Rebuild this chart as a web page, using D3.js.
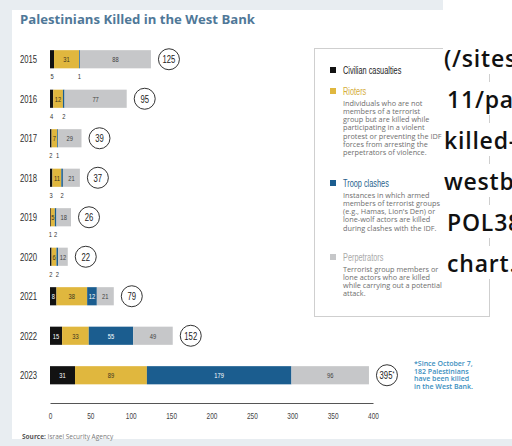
<!DOCTYPE html>
<html>
<head>
<meta charset="utf-8">
<script src="https://cdn.jsdelivr.net/npm/d3@7"></script>
<style>
  html, body { margin: 0; padding: 0; background: #ffffff; }
  svg { display: block; overflow: hidden; }
  .cond { font-family: "Liberation Sans", "DejaVu Sans", sans-serif; }
  .body { font-family: "Open Sans", "Noto Sans", sans-serif; }
</style>
</head>
<body>
<svg id="chart" width="512" height="446"></svg>
<script>
// Palestinians killed in the West Bank, by category and year
const years = ["2015", "2016", "2017", "2018", "2019", "2020", "2021", "2022", "2023"];
const civilian = [5, 4, 2, 3, 1, 2, 8, 15, 31];
const rioters = [31, 12, 7, 11, 5, 6, 38, 33, 89];
const troopClashes = [1, 2, 1, 2, 2, 2, 12, 55, 179];
const perpetrators = [88, 77, 29, 21, 18, 12, 21, 49, 96];
const totals = [125, 95, 39, 37, 26, 22, 79, 152, 395];
const totalMarks = ["", "", "", "", "", "", "", "", "*"];
const xTicks = [0, 50, 100, 150, 200, 250, 300, 350, 400];

const seriesKeys = ["civilian", "rioters", "troop", "perpetrators"];
const seriesNames = ["Civilian casualties", "Rioters", "Troop clashes", "Perpetrators"];
const seriesColors = ["#121212", "#e0b73e", "#1b5d8f", "#c6c7c9"];
const seriesText = ["#ffffff", "#3a3320", "#ffffff", "#3f3f3f"];
const legendLabelColors = ["#222222", "#d4ac3a", "#1f5f8d", "#a9a9a9"];
const legendNotes = [
  [],
  ["Individuals who are not", "members of a terrorist", "group but are killed while",
   "participating in a violent", "protest or preventing the IDF", "forces from arresting the",
   "perpetrators of violence."],
  ["Instances in which armed", "members of terrorist groups", "(e.g., Hamas, Lion's Den) or",
   "lone-wolf actors are killed", "during clashes with the IDF."],
  ["Terrorist group members or", "lone actors who are killed", "while carrying out a potential",
   "attack."]
];
const footnoteLines = ["*Since October 7,", "182 Palestinians", "have been killed", "in the West Bank."];
const pathLines = ["(/sites/default/files/2023-", "11/palestinians-", "killed-in-the-",
  "westbank-", "POL38-", "chart.png)"];

const table = years.map((yr, i) => ({
  year: yr,
  civilian: civilian[i],
  rioters: rioters[i],
  troop: troopClashes[i],
  perpetrators: perpetrators[i],
  total: totals[i],
  mark: totalMarks[i]
}));

// squeeze text horizontally to get a condensed face
function narrow(sel, sx) {
  sel.each(function () {
    const tx = +this.getAttribute("x") || 0;
    const ty = +this.getAttribute("y") || 0;
    this.setAttribute("x", 0);
    this.setAttribute("y", 0);
    this.setAttribute("transform", `translate(${tx},${ty}) scale(${sx},1)`);
  });
}

const svg = d3.select("#chart");
const W = 512, H = 446;

// page frame
svg.append("rect").attr("width", W).attr("height", H).attr("fill", "#ffffff");
svg.append("rect").attr("x", 0).attr("y", 0).attr("width", 12).attr("height", H).attr("fill", "#e8edf1");
svg.append("rect").attr("x", 0).attr("y", 0).attr("width", 443).attr("height", 10).attr("fill", "#e8edf1");
svg.append("rect").attr("x", 0).attr("y", 439).attr("width", W).attr("height", 7).attr("fill", "#e8edf1");

// title
svg.append("text")
  .attr("x", 20).attr("y", 24)
  .attr("class", "body")
  .attr("font-size", 12.5).attr("font-weight", 700)
  .attr("fill", "#4f7898")
  .attr("textLength", 235).attr("lengthAdjust", "spacingAndGlyphs")
  .text("Palestinians Killed in the West Bank");

const x = d3.scaleLinear().domain([0, 400]).range([50, 373]);
const y = d3.scaleBand().domain(years).range([39.5, 395]).paddingInner(0.54).paddingOuter(0.27);
const bw = y.bandwidth();

const stacked = d3.stack().keys(seriesKeys)(table);

// year labels
svg.append("g").selectAll("text").data(years).join("text")
  .attr("class", "cond")
  .attr("x", 20).attr("y", d => y(d) + bw / 2).attr("dy", "0.35em")
  .attr("font-size", 11).attr("fill", "#2e2e2e")
  .text(d => d)
  .call(narrow, 0.7);

// stacked bars
const layers = svg.append("g").selectAll("g").data(stacked).join("g");
layers.each(function (layer, li) {
  const g = d3.select(this);
  g.selectAll("rect").data(layer).join("rect")
    .attr("x", d => x(d[0]))
    .attr("y", d => y(d.data.year))
    .attr("width", d => x(d[1]) - x(d[0]))
    .attr("height", bw)
    .attr("fill", seriesColors[li]);

  g.selectAll("text").data(layer).join("text")
    .attr("class", "cond")
    .attr("font-size", 8)
    .attr("text-anchor", "middle")
    .each(function (d) {
      const v = d[1] - d[0];
      const below = (li === 0 || li === 2) && v < 6;
      d3.select(this)
        .attr("x", (x(d[0]) + x(d[1])) / 2)
        .attr("y", below ? y(d.data.year) + bw + 8 : y(d.data.year) + bw / 2)
        .attr("dy", "0.35em")
        .attr("fill", below ? "#333" : seriesText[li])
        .text(v);
    })
    .call(narrow, 0.72);
});

// totals in circles
const tot = svg.append("g").selectAll("g").data(table).join("g")
  .attr("transform", d => `translate(${x(d.total) + 18},${y(d.year) + bw / 2})`);
tot.append("circle").attr("r", 10.5).attr("fill", "#fff").attr("stroke", "#333").attr("stroke-width", 1);
tot.append("text")
  .attr("class", "cond")
  .attr("text-anchor", "middle").attr("dy", "0.36em")
  .attr("font-size", 11).attr("fill", "#222")
  .each(function (d) {
    const t = d3.select(this);
    t.append("tspan").text(d.total);
    if (d.mark) t.append("tspan").attr("font-size", 7).attr("dy", "-0.4em").text(d.mark);
  })
  .call(narrow, 0.7);

// x axis
const axis = svg.append("g")
  .attr("transform", "translate(0,403)")
  .call(d3.axisBottom(x).tickValues(xTicks).tickSize(0).tickPadding(10));
axis.select(".domain").attr("stroke", "#555").attr("stroke-width", 1);
axis.selectAll(".tick text")
  .attr("font-size", 9).attr("fill", "#444")
  .style("font-family", "'Liberation Sans', 'DejaVu Sans', sans-serif")
  .attr("transform", "scale(0.72,1)");

// source
svg.append("text")
  .attr("class", "body").attr("x", 22).attr("y", 439)
  .attr("font-size", 6.5).attr("fill", "#7a7a7a")
  .call(t => {
    t.append("tspan").attr("font-weight", 700).attr("fill", "#555").text("Source: ");
    t.append("tspan").text("Israel Security Agency");
  });

// footnote beside 2023
svg.append("g").selectAll("text").data(footnoteLines).join("text")
  .attr("class", "body")
  .attr("x", 414).attr("y", (d, i) => 366 + i * 7.6)
  .attr("font-size", 7).attr("font-weight", 600).attr("fill", "#3b8fc0")
  .text(d => d);

// legend box
const lg = svg.append("g");
lg.append("rect").attr("x", 314.5).attr("y", 48.5).attr("width", 175).attr("height", 268)
  .attr("fill", "#fff").attr("stroke", "#cfcfcf").attr("stroke-width", 1);
const legendY = [70, 91, 183, 257];
seriesNames.forEach((name, i) => {
  lg.append("rect").attr("x", 330).attr("y", legendY[i] - 3).attr("width", 6).attr("height", 6)
    .attr("fill", seriesColors[i]);
  lg.append("text").attr("class", "cond")
    .attr("x", 343).attr("y", legendY[i]).attr("dy", "0.35em")
    .attr("font-size", 10.5).attr("fill", legendLabelColors[i])
    .text(name)
    .call(narrow, 0.7);
  lg.append("g").selectAll("text").data(legendNotes[i]).join("text")
    .attr("class", "body")
    .attr("x", 343).attr("y", (d, j) => legendY[i] + 12 + j * 8.3).attr("dy", "0.35em")
    .attr("font-size", 7.3).attr("fill", "#6e6e6e")
    .text(d => d);
});

// file path text running over the right edge
const pathG = svg.append("g");
const pathX = [444, 447, 444, 444, 447, 447];
pathLines.forEach((s, i) => {
  const base = 67 + i * 41;
  pathG.append("rect").attr("x", 443).attr("y", base - 26).attr("width", W - 443).attr("height", 33)
    .attr("fill", "#fff");
  pathG.append("text").attr("class", "body")
    .attr("x", pathX[i]).attr("y", base)
    .attr("font-size", 23).attr("font-weight", 600).attr("fill", "#111")
    .attr("letter-spacing", 0.8)
    .text(s);
});
</script>
</body>
</html>
